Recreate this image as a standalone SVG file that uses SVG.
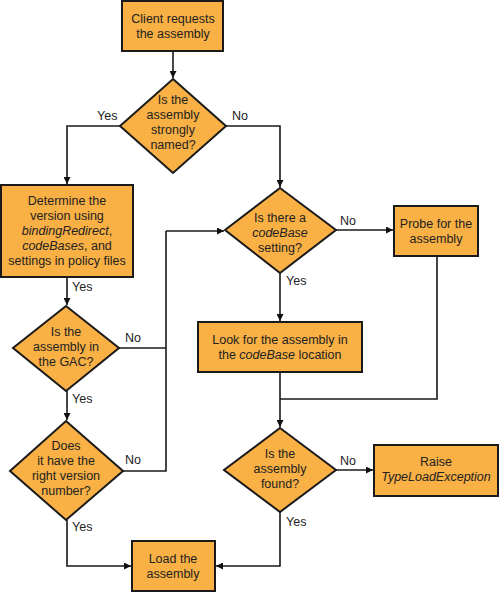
<svg xmlns="http://www.w3.org/2000/svg" width="500" height="592" viewBox="0 0 500 592">
<defs>
<marker id="ah" viewBox="0 0 8 8" refX="8" refY="4" markerWidth="7" markerHeight="7" markerUnits="userSpaceOnUse" orient="auto">
<path d="M0,0 L8,4 L0,8 Z" fill="#111"/>
</marker>
<style>
.n{fill:#F9B044;stroke:#1a1a1a;stroke-width:2}
.t{font-family:"Liberation Sans",Arial,sans-serif;font-size:12.5px;fill:#222;text-anchor:middle}
.l{font-family:"Liberation Sans",Arial,sans-serif;font-size:12.5px;fill:#222}
.c{fill:none;stroke:#1a1a1a;stroke-width:1.6}
.a{marker-end:url(#ah)}
</style>
</defs>
<rect width="500" height="592" fill="#fff"/>
<g id="connectors">
<path class="c a" d="M173,51 V78"/>
<path class="c a" d="M120,126 H67 V184"/>
<path class="c a" d="M226,126 H280 V187"/>
<path class="c a" d="M67,277 V305"/>
<path class="c a" d="M336,230 H393"/>
<path class="c a" d="M280,273 V321"/>
<path class="c a" d="M67,391 V420"/>
<path class="c" d="M119,348 H166"/>
<path class="c" d="M123,471 H166 V231"/>
<path class="c a" d="M166,231 H224"/>
<path class="c" d="M437,256 V399 H280"/>
<path class="c a" d="M280,372 V427"/>
<path class="c a" d="M336,470 H373"/>
<path class="c a" d="M67,520 V566 H131"/>
<path class="c a" d="M280,512 V566 H216"/>
</g>
<g id="labels">
<text class="l" x="97" y="120">Yes</text>
<text class="l" x="232" y="120">No</text>
<text class="l" x="72" y="291">Yes</text>
<text class="l" x="340" y="225">No</text>
<text class="l" x="286" y="285">Yes</text>
<text class="l" x="125" y="342">No</text>
<text class="l" x="72" y="403">Yes</text>
<text class="l" x="125" y="464">No</text>
<text class="l" x="72" y="531">Yes</text>
<text class="l" x="340" y="465">No</text>
<text class="l" x="286" y="526">Yes</text>
</g>
<g id="client">
<rect class="n" x="122" y="1" width="101" height="50"/>
<text class="t" x="173" y="23">Client requests</text>
<text class="t" x="173" y="38">the assembly</text>
</g>
<g id="strong">
<polygon class="n" points="173,79 226,126 173,173 120,126"/>
<text class="t" x="173" y="104">Is the</text>
<text class="t" x="173" y="119">assembly</text>
<text class="t" x="173" y="134">strongly</text>
<text class="t" x="173" y="149">named?</text>
</g>
<g id="determine">
<rect class="n" x="1" y="185" width="132" height="92"/>
<text class="t" x="67" y="205">Determine the</text>
<text class="t" x="67" y="220">version using</text>
<text class="t" x="67" y="235"><tspan font-style="italic">bindingRedirect</tspan>,</text>
<text class="t" x="67" y="250"><tspan font-style="italic">codeBases</tspan>, and</text>
<text class="t" x="67" y="265">settings in policy files</text>
</g>
<g id="codebase">
<polygon class="n" points="280,188 336,230 280,273 225,230"/>
<text class="t" x="280" y="222">Is there a</text>
<text class="t" x="280" y="237" font-style="italic">codeBase</text>
<text class="t" x="280" y="252">setting?</text>
</g>
<g id="probe">
<rect class="n" x="394" y="206" width="84" height="50"/>
<text class="t" x="436" y="228">Probe for the</text>
<text class="t" x="436" y="243">assembly</text>
</g>
<g id="gac">
<polygon class="n" points="66,306 119,348 66,391 13,348"/>
<text class="t" x="66" y="336">Is the</text>
<text class="t" x="66" y="351">assembly in</text>
<text class="t" x="66" y="366">the GAC?</text>
</g>
<g id="lookfor">
<rect class="n" x="198" y="322" width="164" height="50"/>
<text class="t" x="280" y="344">Look for the assembly in</text>
<text class="t" x="280" y="359">the <tspan font-style="italic">codeBase</tspan> location</text>
</g>
<g id="version">
<polygon class="n" points="66,421 123,471 66,520 10,471"/>
<text class="t" x="66" y="450">Does</text>
<text class="t" x="66" y="465">it have the</text>
<text class="t" x="66" y="480">right version</text>
<text class="t" x="66" y="495">number?</text>
</g>
<g id="found">
<polygon class="n" points="280,428 336,470 280,512 224,470"/>
<text class="t" x="280" y="458">Is the</text>
<text class="t" x="280" y="473">assembly</text>
<text class="t" x="280" y="488">found?</text>
</g>
<g id="raise">
<rect class="n" x="374" y="445" width="124" height="51"/>
<text class="t" x="436" y="466">Raise</text>
<text class="t" x="436" y="481" font-style="italic">TypeLoadException</text>
</g>
<g id="load">
<rect class="n" x="132" y="541" width="83" height="50"/>
<text class="t" x="173" y="563">Load the</text>
<text class="t" x="173" y="578">assembly</text>
</g>
</svg>
